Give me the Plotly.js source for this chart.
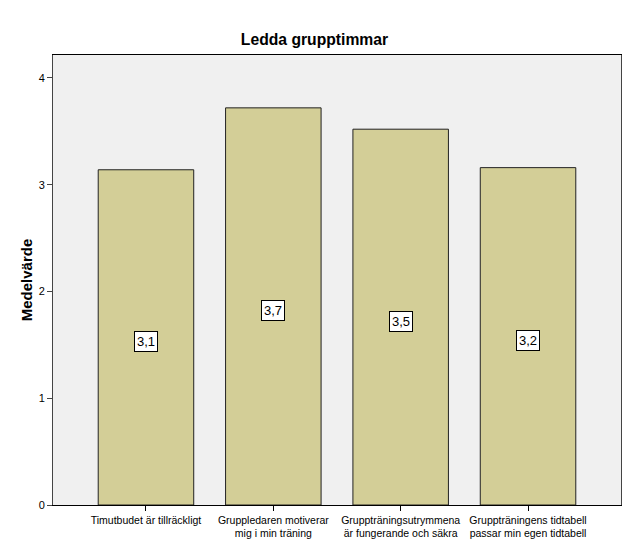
<!DOCTYPE html>
<html>
<head>
<meta charset="utf-8">
<script src="https://cdn.plot.ly/plotly-3.0.1.min.js"></script>
<style>html,body{margin:0;padding:0;background:#fff;}#chart{width:629px;height:544px;}</style>
</head>
<body>
<div id="chart"></div>
<script>
const categories = [
  "Timutbudet är tillräckligt",
  "Gruppledaren motiverar<br>mig i min träning",
  "Gruppträningsutrymmena<br>är fungerande och säkra",
  "Gruppträningens tidtabell<br>passar min egen tidtabell"
];
const values = [3.14, 3.72, 3.52, 3.16];
const yTicks = [0, 1, 2, 3, 4];

const fmt = v => v.toFixed(1).replace('.', ',');

const trace = {
  type: 'bar',
  x: categories,
  y: values,
  width: 0.75,
  marker: {color: '#D3CE97', line: {color: '#222222', width: 1}},
  hoverinfo: 'none'
};

const annotations = values.map((v, i) => ({
  x: categories[i], y: v / 2, xref: 'x', yref: 'y', yshift: -4,
  text: fmt(v), showarrow: false,
  bgcolor: '#ffffff', bordercolor: '#000000', borderwidth: 1, borderpad: 2,
  font: {family: 'Liberation Sans, Arial, sans-serif', size: 13, color: '#000'}
}));

const layout = {
  width: 629, height: 544,
  margin: {l: 53, r: 8, t: 55, b: 39},
  paper_bgcolor: '#ffffff',
  plot_bgcolor: '#F0F0F0',
  showlegend: false,
  title: {text: '<b>Ledda grupptimmar</b>', x: 0.5, xanchor: 'center', y: 0.927, yanchor: 'middle',
          font: {family: 'Liberation Sans, Arial, sans-serif', size: 15.7, color: '#000'}},
  xaxis: {
    range: [-0.73, 3.73], showgrid: false, zeroline: false,
    showline: true, linecolor: '#000', linewidth: 1, mirror: true,
    ticks: 'outside', ticklen: 5, tickcolor: '#000',
    tickfont: {family: 'Liberation Sans, Arial, sans-serif', size: 10.5, color: '#000'}
  },
  yaxis: {
    range: [0, 4.215], showgrid: false, zeroline: false,
    tickvals: yTicks, ticktext: yTicks.map(String),
    showline: true, linecolor: '#444', linewidth: 1, mirror: true,
    ticks: 'outside', ticklen: 5, tickcolor: '#444',
    tickfont: {family: 'Liberation Sans, Arial, sans-serif', size: 11, color: '#000'},
    title: {text: '<b>Medelvärde</b>', standoff: 2,
            font: {family: 'Liberation Sans, Arial, sans-serif', size: 15, color: '#000'}}
  },
  annotations: annotations
};

Plotly.newPlot('chart', [trace], layout, {staticPlot: true, displayModeBar: false});
</script>
</body>
</html>
